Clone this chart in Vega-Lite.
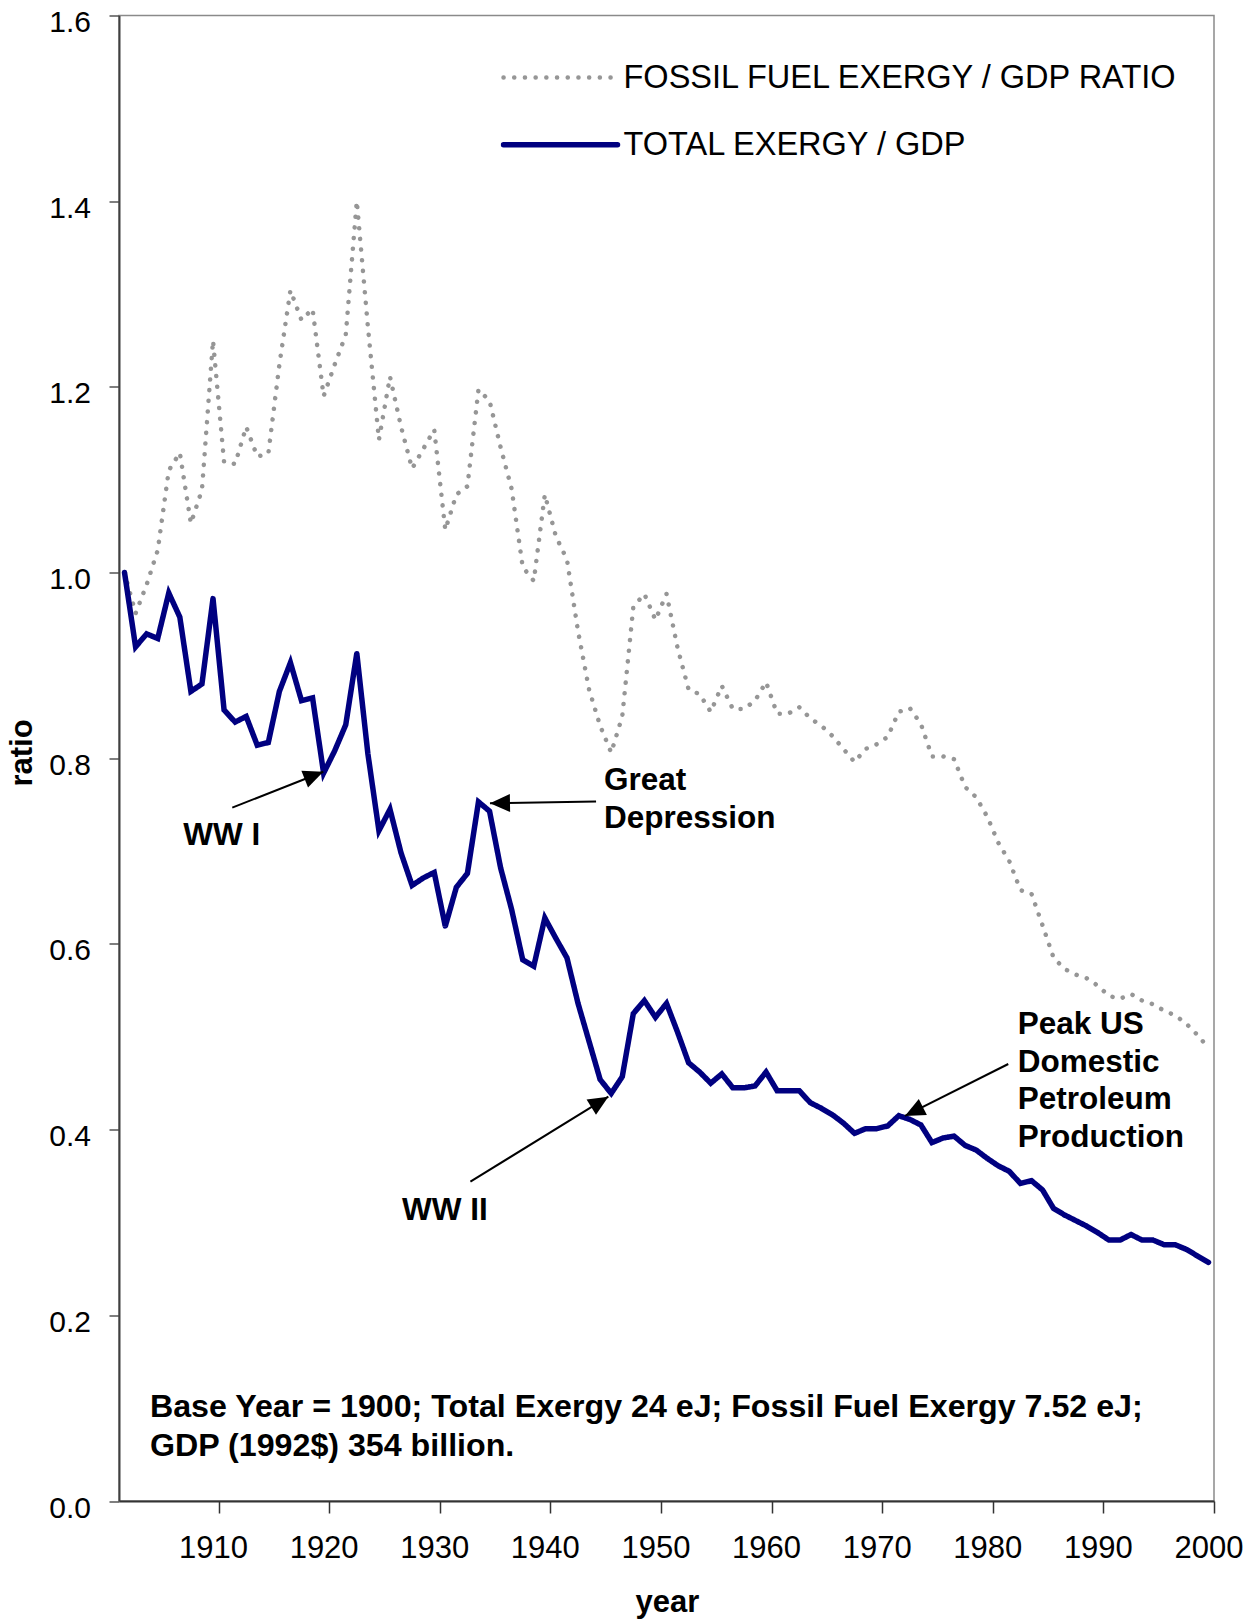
{
  "$schema": "https://vega.github.io/schema/vega-lite/v6.json",
  "width": 1095,
  "height": 1485.5,
  "autosize": {"type": "none"},
  "padding": {"left": 119, "top": 15.5, "right": 41, "bottom": 120},
  "background": "white",
  "config": {
    "font": "Liberation Sans",
    "view": {"stroke": "#8a8a8a", "strokeWidth": 1.5},
    "axis": {"grid": false, "labelColor": "#000000", "titleColor": "#000000"}
  },
  "encoding": {
    "x": {
      "field": "year", "type": "quantitative",
      "scale": {"domain": [1901.5, 2000.5], "nice": false, "zero": false},
      "axis": {
        "title": "year", "values": [1910, 1920, 1930, 1940, 1950, 1960, 1970, 1980, 1990, 2000],
        "format": "d", "labelFontSize": 31, "labelPadding": 20, "tickSize": 12,
        "tickOffset": 5.53, "labelOffset": -5.53, "tickColor": "#333333", "tickWidth": 1.5,
        "domainColor": "#333333", "domainWidth": 2, "titleFontSize": 31, "titleFontWeight": "bold",
        "titleBaseline": "alphabetic", "titleY": 110, "titleX": 548, "labelFlush": false, "labelOverlap": false
      }
    },
    "y": {
      "field": "ratio", "type": "quantitative",
      "scale": {"domain": [0, 1.6], "nice": false},
      "axis": {
        "title": "ratio", "values": [0, 0.2, 0.4, 0.6, 0.8, 1.0, 1.2, 1.4, 1.6],
        "format": ".1f", "labelFontSize": 30, "labelPadding": 18.5, "labelOffset": 7, "tickSize": 10,
        "tickColor": "#555555", "tickWidth": 1.5, "domainColor": "#404040", "domainWidth": 2,
        "titleFontSize": 31, "titleFontWeight": "bold", "titleAngle": 270, "titleBaseline": "alphabetic",
        "titleX": -88, "titleY": 737, "labelFlush": false, "labelOverlap": false
      }
    }
  },
  "layer": [
    {
      "data": {"values": [
        {"year":1902,"fossil":1.000,"total":1.000},{"year":1903,"fossil":0.956,"total":0.920},{"year":1904,"fossil":0.987,"total":0.934},
        {"year":1905,"fossil":1.024,"total":0.929},{"year":1906,"fossil":1.110,"total":0.978},{"year":1907,"fossil":1.129,"total":0.952},
        {"year":1908,"fossil":1.053,"total":0.872},{"year":1909,"fossil":1.089,"total":0.880},{"year":1910,"fossil":1.250,"total":0.972},
        {"year":1911,"fossil":1.119,"total":0.852},{"year":1912,"fossil":1.117,"total":0.839},{"year":1913,"fossil":1.157,"total":0.845},
        {"year":1914,"fossil":1.125,"total":0.814},{"year":1915,"fossil":1.128,"total":0.817},{"year":1916,"fossil":1.224,"total":0.872},
        {"year":1917,"fossil":1.304,"total":0.903},{"year":1918,"fossil":1.272,"total":0.862},{"year":1919,"fossil":1.284,"total":0.865},
        {"year":1920,"fossil":1.190,"total":0.784},{"year":1921,"fossil":1.224,"total":0.808},{"year":1922,"fossil":1.256,"total":0.836},
        {"year":1923,"fossil":1.400,"total":0.913},{"year":1924,"fossil":1.265,"total":0.805},{"year":1925,"fossil":1.143,"total":0.722},
        {"year":1926,"fossil":1.211,"total":0.745},{"year":1927,"fossil":1.157,"total":0.698},{"year":1928,"fossil":1.112,"total":0.663},
        {"year":1929,"fossil":1.133,"total":0.671},{"year":1930,"fossil":1.154,"total":0.677},{"year":1931,"fossil":1.046,"total":0.619},
        {"year":1932,"fossil":1.084,"total":0.661},{"year":1933,"fossil":1.093,"total":0.676},{"year":1934,"fossil":1.197,"total":0.753},
        {"year":1935,"fossil":1.185,"total":0.743},{"year":1936,"fossil":1.135,"total":0.682},{"year":1937,"fossil":1.090,"total":0.637},
        {"year":1938,"fossil":1.006,"total":0.583},{"year":1939,"fossil":0.991,"total":0.576},{"year":1940,"fossil":1.084,"total":0.628},
        {"year":1941,"fossil":1.039,"total":0.606},{"year":1942,"fossil":1.014,"total":0.585},{"year":1943,"fossil":0.937,"total":0.536},
        {"year":1944,"fossil":0.874,"total":0.495},{"year":1945,"fossil":0.835,"total":0.454},{"year":1946,"fossil":0.806,"total":0.439},
        {"year":1947,"fossil":0.845,"total":0.457},{"year":1948,"fossil":0.963,"total":0.525},{"year":1949,"fossil":0.977,"total":0.539},
        {"year":1950,"fossil":0.949,"total":0.521},{"year":1951,"fossil":0.977,"total":0.536},{"year":1952,"fossil":0.919,"total":0.505},
        {"year":1953,"fossil":0.874,"total":0.472},{"year":1954,"fossil":0.869,"total":0.462},{"year":1955,"fossil":0.850,"total":0.450},
        {"year":1956,"fossil":0.878,"total":0.460},{"year":1957,"fossil":0.853,"total":0.445},{"year":1958,"fossil":0.853,"total":0.445},
        {"year":1959,"fossil":0.862,"total":0.447},{"year":1960,"fossil":0.882,"total":0.462},{"year":1961,"fossil":0.848,"total":0.442},
        {"year":1962,"fossil":0.848,"total":0.442},{"year":1963,"fossil":0.855,"total":0.442},{"year":1964,"fossil":0.843,"total":0.429},
        {"year":1965,"fossil":0.835,"total":0.423},{"year":1966,"fossil":0.824,"total":0.416},{"year":1967,"fossil":0.810,"total":0.407},
        {"year":1968,"fossil":0.796,"total":0.396},{"year":1969,"fossil":0.810,"total":0.401},{"year":1970,"fossil":0.815,"total":0.401},
        {"year":1971,"fossil":0.823,"total":0.404},{"year":1972,"fossil":0.850,"total":0.415},{"year":1973,"fossil":0.854,"total":0.411},
        {"year":1974,"fossil":0.837,"total":0.405},{"year":1975,"fossil":0.802,"total":0.386},{"year":1976,"fossil":0.802,"total":0.391},
        {"year":1977,"fossil":0.799,"total":0.393},{"year":1978,"fossil":0.769,"total":0.383},{"year":1979,"fossil":0.758,"total":0.378},
        {"year":1980,"fossil":0.737,"total":0.369},{"year":1981,"fossil":0.709,"total":0.361},{"year":1982,"fossil":0.689,"total":0.355},
        {"year":1983,"fossil":0.658,"total":0.342},{"year":1984,"fossil":0.654,"total":0.345},{"year":1985,"fossil":0.620,"total":0.335},
        {"year":1986,"fossil":0.585,"total":0.315},{"year":1987,"fossil":0.573,"total":0.308},{"year":1988,"fossil":0.567,"total":0.302},
        {"year":1989,"fossil":0.563,"total":0.296},{"year":1990,"fossil":0.555,"total":0.289},{"year":1991,"fossil":0.544,"total":0.281},
        {"year":1992,"fossil":0.541,"total":0.281},{"year":1993,"fossil":0.546,"total":0.287},{"year":1994,"fossil":0.539,"total":0.281},
        {"year":1995,"fossil":0.535,"total":0.281},{"year":1996,"fossil":0.528,"total":0.276},{"year":1997,"fossil":0.523,"total":0.276},
        {"year":1998,"fossil":0.514,"total":0.271},{"year":1999,"fossil":0.502,"total":0.264},{"year":2000,"fossil":0.488,"total":0.257}
      ]},
      "transform": [{"fold": ["fossil", "total"], "as": ["series", "ratio"]}],
      "mark": {"type": "line", "strokeCap": "round"},
      "encoding": {
        "color": {
          "field": "series", "type": "nominal",
          "scale": {"domain": ["fossil", "total"], "range": ["#969696", "#000080"]},
          "legend": {
            "title": null, "orient": "none", "legendX": 381.5, "legendY": 42, "padding": 0,
            "labelFontSize": 32.5, "labelColor": "#000000", "symbolType": "stroke", "symbolSize": 12996,
            "labelOffset": 3, "rowPadding": 27.2, "clipHeight": 40, "labelLimit": 1000,
            "labelExpr": "datum.value == 'fossil' ? 'FOSSIL FUEL EXERGY / GDP RATIO' : 'TOTAL EXERGY / GDP'",
            "encode": {"symbols": {"update": {"strokeCap": {"value": "round"}}}}
          }
        },
        "strokeDash": {
          "field": "series", "type": "nominal",
          "scale": {"domain": ["fossil", "total"], "range": [[0.1, 10.6], [1, 0]]}
        },
        "strokeWidth": {
          "field": "series", "type": "nominal",
          "scale": {"domain": ["fossil", "total"], "range": [4.5, 5.5]}
        }
      }
    },
    {
      "data": {"values": [
        {"year": 1911.74, "ratio": 0.7468, "year2": 1919.97, "ratio2": 0.7855},
        {"year": 1944.63, "ratio": 0.7533, "year2": 1935.04, "ratio2": 0.7515},
        {"year": 1933.27, "ratio": 0.3440, "year2": 1945.74, "ratio2": 0.4355},
        {"year": 1981.90, "ratio": 0.4707, "year2": 1972.56, "ratio2": 0.4147}
      ]},
      "mark": {"type": "rule", "color": "#000000", "strokeWidth": 2},
      "encoding": {
        "x2": {"field": "year2"},
        "y2": {"field": "ratio2"}
      }
    },
    {
      "data": {"values": [{"year": 1919.97, "ratio": 0.7855}]},
      "mark": {"type": "point", "shape": "M0,0L0.45,1L-0.45,1Z", "size": 1600, "filled": true, "color": "#000000", "opacity": 1, "strokeWidth": 0},
      "encoding": {"angle": {"value": 68.4}}
    },
    {
      "data": {"values": [{"year": 1935.04, "ratio": 0.7515}]},
      "mark": {"type": "point", "shape": "M0,0L0.45,1L-0.45,1Z", "size": 1600, "filled": true, "color": "#000000", "opacity": 1, "strokeWidth": 0},
      "encoding": {"angle": {"value": 269.1}}
    },
    {
      "data": {"values": [{"year": 1945.74, "ratio": 0.4355}]},
      "mark": {"type": "point", "shape": "M0,0L0.45,1L-0.45,1Z", "size": 1600, "filled": true, "color": "#000000", "opacity": 1, "strokeWidth": 0},
      "encoding": {"angle": {"value": 58.4}}
    },
    {
      "data": {"values": [{"year": 1972.56, "ratio": 0.4147}]},
      "mark": {"type": "point", "shape": "M0,0L0.45,1L-0.45,1Z", "size": 1600, "filled": true, "color": "#000000", "opacity": 1, "strokeWidth": 0},
      "encoding": {"angle": {"value": 243.3}}
    },
    {
      "data": {"values": [
        {"year": 1907.31, "ratio": 0.7066, "label": "WW I"},
        {"year": 1945.35, "ratio": 0.7658, "label": "Great"},
        {"year": 1945.35, "ratio": 0.7245, "label": "Depression"},
        {"year": 1927.09, "ratio": 0.3024, "label": "WW II"},
        {"year": 1982.75, "ratio": 0.5027, "label": "Peak US"},
        {"year": 1982.75, "ratio": 0.4623, "label": "Domestic"},
        {"year": 1982.75, "ratio": 0.4219, "label": "Petroleum"},
        {"year": 1982.75, "ratio": 0.3815, "label": "Production"}
      ]},
      "mark": {"type": "text", "align": "left", "baseline": "alphabetic", "fontSize": 31.5, "fontWeight": "bold", "color": "#000000"},
      "encoding": {"text": {"field": "label"}}
    },
    {
      "data": {"values": [
        {"year": 1904.30, "ratio": 0.0905, "label": "Base Year = 1900; Total Exergy 24 eJ; Fossil Fuel Exergy 7.52 eJ;"},
        {"year": 1904.30, "ratio": 0.0485, "label": "GDP (1992$) 354 billion."}
      ]},
      "mark": {"type": "text", "align": "left", "baseline": "alphabetic", "fontSize": 32.2, "fontWeight": "bold", "color": "#000000"},
      "encoding": {"text": {"field": "label"}}
    }
  ]
}
